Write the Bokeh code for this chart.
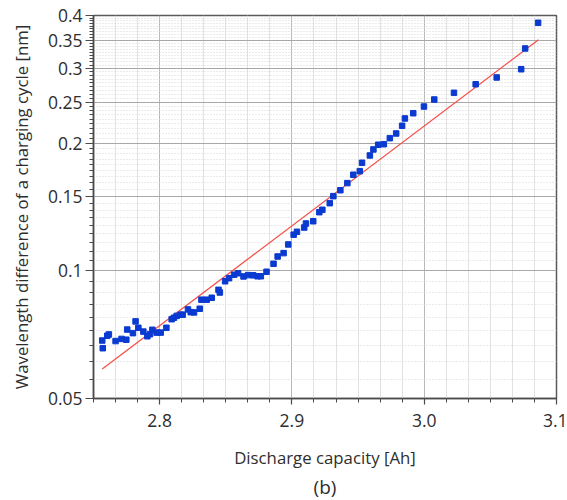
from bokeh.plotting import figure
from bokeh.models import Range1d, FixedTicker, CustomJSTickFormatter, Title, ColumnDataSource
from bokeh.embed import file_html
from bokeh.resources import INLINE

# ---- data ----
capacity = [2.7566, 2.7570, 2.7604, 2.7616, 2.7667, 2.7712, 2.7748, 2.7755, 2.7798, 2.7818,
            2.7839, 2.7877, 2.7907, 2.7927, 2.7945, 2.7977, 2.8008, 2.8051, 2.8091, 2.8108,
            2.8129, 2.8159, 2.8174, 2.8214, 2.8235, 2.8260, 2.8303, 2.8316, 2.8356, 2.8394,
            2.8445, 2.8455, 2.8495, 2.8525, 2.8563, 2.8593, 2.8634, 2.8669, 2.8707, 2.8740,
            2.8765, 2.8808, 2.8861, 2.8892, 2.8937, 2.8972, 2.9013, 2.9038, 2.9093, 2.9106,
            2.9161, 2.9207, 2.9230, 2.9286, 2.9313, 2.9366, 2.9419, 2.9464, 2.9513, 2.9530,
            2.9589, 2.9616, 2.9652, 2.9695, 2.9740, 2.9788, 2.9833, 2.9854, 2.9917, 2.9998,
            3.0076, 3.0225, 3.0389, 3.0548, 3.0733, 3.0763, 3.0861]
wl_diff = [0.0685, 0.0657, 0.0703, 0.0708, 0.0683, 0.0691, 0.0688, 0.0727, 0.0713, 0.0760,
           0.0734, 0.0719, 0.0701, 0.0709, 0.0726, 0.0715, 0.0715, 0.0734, 0.0769, 0.0775,
           0.0783, 0.0788, 0.0788, 0.0811, 0.0799, 0.0798, 0.0814, 0.0855, 0.0855, 0.0864,
           0.0902, 0.0889, 0.0945, 0.0961, 0.0979, 0.0987, 0.0970, 0.0977, 0.0976, 0.0971,
           0.0971, 0.0995, 0.1039, 0.1081, 0.1101, 0.1154, 0.1217, 0.1236, 0.1265, 0.1293,
           0.1309, 0.1375, 0.1393, 0.1444, 0.1500, 0.1549, 0.1610, 0.1685, 0.1718, 0.1798,
           0.1871, 0.1933, 0.1983, 0.1989, 0.2055, 0.2108, 0.2198, 0.2287, 0.2353, 0.2440,
           0.2535, 0.2629, 0.2754, 0.2857, 0.2988, 0.3344, 0.3845]
fit_capacity = [2.7566, 3.0864]
fit_wl_diff = [0.0587, 0.3506]

x_ticks = [2.8, 2.9, 3.0, 3.1]
x_labels = ["2.8", "2.9", "3.0", "3.1"]
y_ticks = [0.05, 0.1, 0.15, 0.2, 0.25, 0.3, 0.35, 0.4]

# minor tick positions (style)
x_minor = [round(2.75 + k / 60.0, 5) for k in range(0, 22)]
x_minor = [m for m in x_minor if all(abs(m - t) > 1e-6 for t in x_ticks)]
y_minor = []
for lo, hi in zip(y_ticks[:-1], y_ticks[1:]):
    for k in range(1, 9):
        y_minor.append(round(lo + (hi - lo) * k / 9.0, 6))

FONT = "Open Sans"
TXT = "#2e2e2e"

p = figure(frame_width=463, frame_height=383,
           min_border_left=93, min_border_right=11, min_border_top=15, min_border_bottom=102,
           y_axis_type="log", x_range=Range1d(2.75, 3.1), y_range=Range1d(0.05, 0.4),
           output_backend="svg", toolbar_location=None,
           background_fill_color="white", border_fill_color="white")

p.outline_line_color = "#5a5a5a"
p.outline_line_width = 1.5

# axes
p.xaxis.ticker = FixedTicker(ticks=x_ticks, minor_ticks=x_minor)
p.xaxis.major_label_overrides = {t: l for t, l in zip(x_ticks, x_labels)}
p.yaxis.ticker = FixedTicker(ticks=y_ticks, minor_ticks=y_minor)
p.yaxis.formatter = CustomJSTickFormatter(code="return tick.toFixed(2).replace(/0$/, '');")

for ax in (p.xaxis[0], p.yaxis[0]):
    ax.axis_line_color = "#4a4a4a"
    ax.axis_line_width = 1.5
    ax.major_tick_line_color = "#4a4a4a"
    ax.minor_tick_line_color = "#4a4a4a"
    ax.major_tick_line_width = 1.2
    ax.minor_tick_line_width = 1
    ax.major_tick_in = 0
    ax.minor_tick_in = 0
    ax.major_label_text_font = FONT
    ax.major_label_text_font_size = "17.5px"
    ax.major_label_text_color = TXT
    ax.axis_label_text_font = FONT
    ax.axis_label_text_font_size = "16.8px"
    ax.axis_label_text_font_style = "normal"
    ax.axis_label_text_color = TXT

p.xaxis.major_tick_out = 6
p.xaxis.minor_tick_out = 4
p.xaxis.major_label_standoff = 9
p.xaxis.axis_label = "Discharge capacity [Ah]"
p.xaxis.axis_label_standoff = 16

p.yaxis.major_tick_out = 8
p.yaxis.minor_tick_out = 4
p.yaxis.major_label_standoff = 3
p.yaxis.axis_label = "Wavelength difference of a charging cycle [nm]"
p.yaxis.axis_label_standoff = 12

# grids
p.xgrid.grid_line_color = "#b8b8b8"
p.xgrid.grid_line_width = 1
p.xgrid.minor_grid_line_color = "#e2e2e2"
p.xgrid.minor_grid_line_width = 1
p.ygrid.grid_line_color = "#a8a8a8"
p.ygrid.grid_line_width = 1.2
p.ygrid.minor_grid_line_color = "#d6d6d6"
p.ygrid.minor_grid_line_dash = "1 2"
p.ygrid.minor_grid_line_width = 1

# data
src = ColumnDataSource(dict(x=capacity, y=wl_diff))
p.line(fit_capacity, fit_wl_diff, line_color="#f4504a", line_width=1.3)
p.scatter("x", "y", source=src, marker="square", size=5.5,
          fill_color="#0a3ad0", line_color="#0a3ad0")

p.add_layout(Title(text="(b)", align="center", text_font=FONT, text_font_size="19px",
                   text_font_style="normal", text_color=TXT, standoff=0), "below")

open("out.html", "w").write(file_html(p, INLINE))
